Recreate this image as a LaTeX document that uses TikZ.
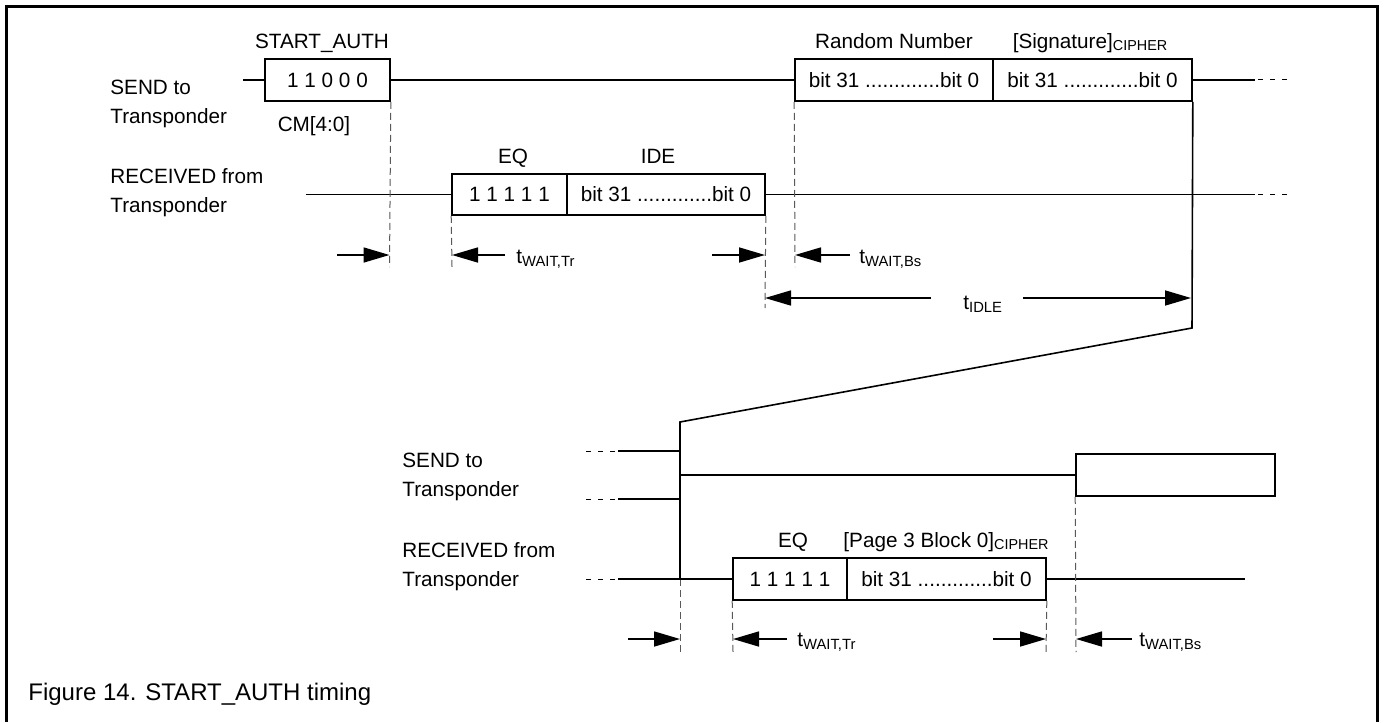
\documentclass[tikz,border=0pt]{standalone}
\usepackage{fontspec}
\setmainfont{Liberation Sans}
\usetikzlibrary{arrows.meta}
\newcommand\tsub[1]{\raisebox{-1.8pt}{\fontsize{7.4}{8}\selectfont #1}}
\newcommand\csub[1]{\raisebox{-0.8pt}{\fontsize{7.2}{8}\selectfont #1}}
\begin{document}
\begin{tikzpicture}[x=0.5pt,y=-0.5pt,
  every node/.style={inner sep=0pt, font=\fontsize{10.35}{12}\selectfont},
  sig/.style={line width=0.8pt},
  box/.style={draw, line width=0.8pt, minimum height=21pt, inner sep=0pt},
  guide/.style={line width=0.5pt, draw=black!65, dash pattern=on 3.5pt off 2pt},
  stub/.style={line width=0.5pt, dash pattern=on 2.5pt off 3.5pt},
  dim/.style={line width=0.8pt, -{Triangle[length=13pt,width=7.5pt]}},
  frame/.style={line width=1.1pt},
  lbl/.style={anchor=base west},
  ctr/.style={anchor=base}
]
\useasboundingbox (0,0) rectangle (1384,722);
\draw[frame] (6.5,722) -- (6.5,6.5) -- (1377.5,6.5) -- (1377.5,722);

% ---------- top section ----------
\node[lbl] (ls1) at (110,94.5) {SEND to};
\node[lbl] (ls2) at (110,123.5) {Transponder};
\node[lbl] (lr1) at (110,183.5) {RECEIVED from};
\node[lbl] (lr2) at (110,212) {Transponder};

\node[box, minimum width=62.5pt] (cm) at (327.5,80) {1 1 0 0 0};
\node[box, minimum width=99pt] (rn) at (894,80) {bit 31 .............bit 0};
\node[box, minimum width=99.5pt] (sg) at (1092.5,80) {bit 31 .............bit 0};
\node[box, minimum width=57.5pt, minimum height=20.5pt] (eqa) at (509.5,194.5) {1 1 1 1 1};
\node[box, minimum width=99pt, minimum height=20.5pt] (ide) at (666,194.5) {bit 31 .............bit 0};

\node[ctr] (tsa) at (322,48.5) {START\_AUTH};
\node[ctr] (tcm) at (314,131) {CM[4:0]};
\node[ctr] (teqa) at (513,163) {EQ};
\node[ctr] (tide) at (658,163) {IDE};
\node[ctr] (trn) at (894,48.5) {Random Number};
\node[ctr] (tsg) at (1090,48.5) {[Signature]\csub{CIPHER}};

\coordinate (sIn) at (243,80);
\coordinate (sOut) at (1255,80);
\coordinate (sD1) at (1258,80);
\coordinate (sD2) at (1288,80);
\coordinate (rIn) at (306,194.5);
\coordinate (rOut) at (1255,194.5);
\coordinate (rD1) at (1258,194.5);
\coordinate (rD2) at (1288,194.5);
\draw[sig] (sIn) -- (cm.west);
\draw[sig] (cm.east) -- (rn.west);
\draw[sig] (sg.east) -- (sOut);
\draw[stub] (sD1) -- (sD2);
\draw[sig] (rIn) -- (eqa.west);
\draw[sig] (ide.east) -- (rOut);
\draw[stub] (rD1) -- (rD2);

% guides top
\coordinate (g1) at (389.5,267);
\coordinate (g2) at (452,267);
\coordinate (g3) at (765,308);
\coordinate (g4) at (795,267);
\draw[guide] (cm.south east) -- (g1);
\draw[guide] (eqa.south west) -- (g2);
\draw[guide] (ide.south east) -- (g3);
\draw[guide] (rn.south west) -- (g4);

% dimension arrows top
\coordinate (a1s) at (337,255); \coordinate (a1e) at (389.5,255);
\coordinate (a2s) at (505,255); \coordinate (a2e) at (452,255);
\coordinate (a3s) at (712,255); \coordinate (a3e) at (765,255);
\coordinate (a4s) at (850,255); \coordinate (a4e) at (795,255);
\coordinate (a5s) at (931,298); \coordinate (a5e) at (765,298);
\coordinate (a6s) at (1023,298); \coordinate (a6e) at (1191,298);
\draw[dim] (a1s) -- (a1e);
\draw[dim] (a2s) -- (a2e);
\draw[dim] (a3s) -- (a3e);
\draw[dim] (a4s) -- (a4e);
\draw[dim] (a5s) -- (a5e);
\draw[dim] (a6s) -- (a6e);
\node[lbl] (tw1) at (516,263) {t\tsub{WAIT,Tr}};
\node[lbl] (tw2) at (859,263) {t\tsub{WAIT,Bs}};
\node[lbl] (tid) at (963,309) {t\tsub{IDLE}};

% connecting break line
\coordinate (jA) at (1192,328);
\coordinate (jB) at (680,422);
\coordinate (jC) at (680,579);
\coordinate (jD) at (680,652);
\draw[sig] (sg.south east) -- (jA) -- (jB) -- (jC);
\draw[guide] (jC) -- (jD);

% ---------- bottom section ----------
\node[lbl] (bs1) at (402,467.5) {SEND to};
\node[lbl] (bs2) at (402,496.5) {Transponder};
\node[lbl] (br1) at (402,557.5) {RECEIVED from};
\node[lbl] (br2) at (402,586.5) {Transponder};

\node[box, minimum width=99.5pt] (sb) at (1175.5,475) {};
\node[box, minimum width=57pt] (eqb) at (790,579) {1 1 1 1 1};
\node[box, minimum width=99.5pt] (pb) at (946.5,579) {bit 31 .............bit 0};
\node[ctr] (teqb) at (793,547.5) {EQ};
\node[ctr] (tpb) at (946,547.5) {[Page 3 Block 0]\csub{CIPHER}};

\coordinate (u1a) at (586,451); \coordinate (u1b) at (618,451); \coordinate (u1c) at (680,451);
\coordinate (u2a) at (586,499); \coordinate (u2b) at (618,499); \coordinate (u2c) at (680,499);
\coordinate (u3a) at (586,579); \coordinate (u3b) at (618,579);
\coordinate (bSend) at (680,475);
\coordinate (bOut) at (1245,579);
\draw[stub] (u1a) -- (u1b); \draw[sig] (u1b) -- (u1c);
\draw[stub] (u2a) -- (u2b); \draw[sig] (u2b) -- (u2c);
\draw[stub] (u3a) -- (u3b); \draw[sig] (u3b) -- (eqb.west);
\draw[sig] (bSend) -- (sb.west);
\draw[sig] (pb.east) -- (bOut);

\coordinate (h1) at (733,652);
\coordinate (h2) at (1046,652);
\coordinate (h3) at (1076,652);
\draw[guide] (eqb.south west) -- (h1);
\draw[guide] (pb.south east) -- (h2);
\draw[guide] (sb.south west) -- (h3);

\coordinate (b1s) at (628,639); \coordinate (b1e) at (680,639);
\coordinate (b2s) at (787,639); \coordinate (b2e) at (733,639);
\coordinate (b3s) at (993,639); \coordinate (b3e) at (1046,639);
\coordinate (b4s) at (1132,639); \coordinate (b4e) at (1076,639);
\draw[dim] (b1s) -- (b1e);
\draw[dim] (b2s) -- (b2e);
\draw[dim] (b3s) -- (b3e);
\draw[dim] (b4s) -- (b4e);
\node[lbl] (tw3) at (797,646) {t\tsub{WAIT,Tr}};
\node[lbl] (tw4) at (1139,646) {t\tsub{WAIT,Bs}};

\node[lbl, font=\fontsize{12}{14}\selectfont] (cap) at (28,700) {Figure 14. START\_AUTH timing};
\end{tikzpicture}
\end{document}
